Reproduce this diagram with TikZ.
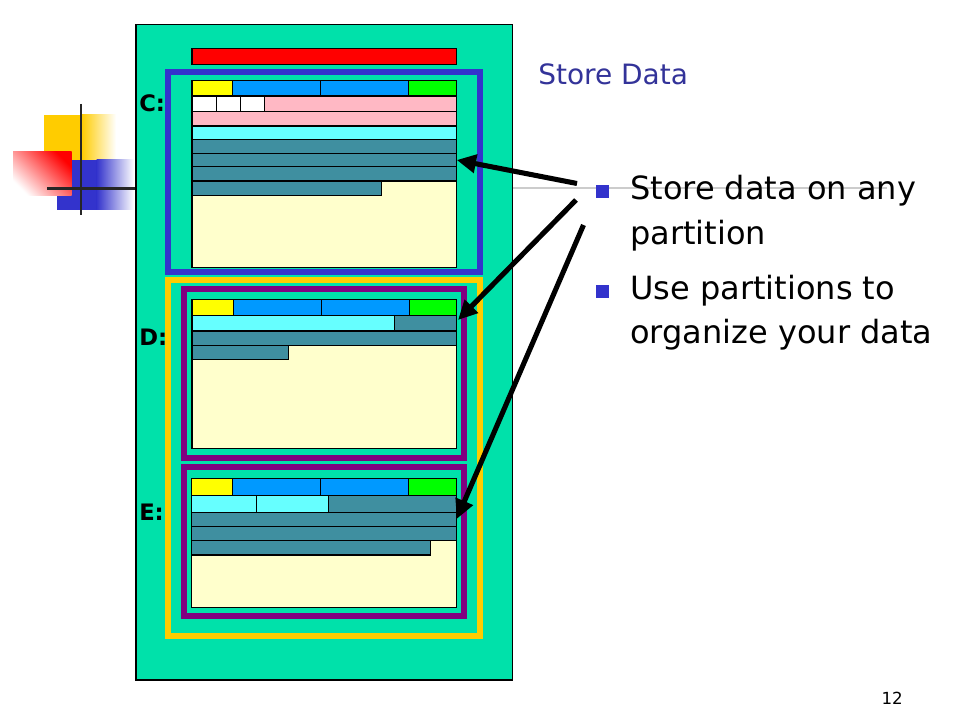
\documentclass[tikz,border=0pt]{standalone}
\usepackage{fontspec}
\setmainfont{DejaVu Sans}
\usetikzlibrary{arrows.meta,shadings}
\definecolor{panel}{RGB}{0,225,170}
\definecolor{cteal}{RGB}{63,143,160}
\definecolor{ccyan}{RGB}{102,255,255}
\definecolor{cpink}{RGB}{255,184,196}
\definecolor{cfree}{RGB}{255,255,204}
\definecolor{chead}{RGB}{0,153,255}
\definecolor{cyel}{RGB}{255,255,0}
\definecolor{cgreen}{RGB}{0,255,0}
\definecolor{cred}{RGB}{255,0,0}
\definecolor{fblue}{RGB}{51,51,204}
\definecolor{fpurple}{RGB}{128,0,128}
\definecolor{fyellow}{RGB}{255,204,0}
\definecolor{titleblue}{RGB}{51,51,153}
\definecolor{decoyel}{RGB}{255,204,0}
\definecolor{decoblue}{RGB}{51,51,204}
\newcommand\pcell[5]{\filldraw[cellbox, fill=#5] (#1,#2) rectangle (#3,#4);}
\tikzset{
  cellbox/.style={draw=black, line width=1pt},
  framebox/.style={line width=4.5pt},
  bigarrow/.style={line width=3.8pt, -{Triangle[length=14.5pt,width=13.5pt]}},
  drvlabel/.style={anchor=base west, inner sep=0pt, font=\fontsize{17pt}{20pt}\selectfont\bfseries},
  bullettext/.style={anchor=base west, inner sep=0pt, font=\fontsize{24pt}{28pt}\selectfont},
  bulletsq/.style={fill=fblue, minimum size=9.5pt, inner sep=0pt, draw=none}
}
\begin{document}
\begin{tikzpicture}[x=0.75pt,y=-0.75pt]
\useasboundingbox (0,0) rectangle (960,720);
\fill[white] (0,0) rectangle (960,720);
% decoration
\fill[decoyel] (44,115) rectangle (82,160);
\shade[left color=decoyel, right color=white] (81.5,115) rectangle (116,160);
\fill[decoblue] (57,160) rectangle (97,210);
\shade[left color=decoblue, right color=white] (96.5,160) rectangle (134,210);
\shade[top color=red, bottom color=white, shading angle=-45] (13,152) rectangle (71.7,196);
\draw[line width=2.2pt, black!85] (81,104) -- (81,215);
\draw[line width=2.2pt, black!85] (47,188.3) -- (137,188.3);
\draw[line width=1.6pt, black!20] (512,188) -- (887,188);
% panel
\filldraw[fill=panel, draw=black, line width=0.8pt] (136,24.3) rectangle (512.7,680);
\pcell{192}{48.3}{456.7}{64.3}{cred}
% frames
\draw[framebox, draw=fblue] (168,72) rectangle (480,272);
\draw[framebox, draw=fyellow] (168,280) rectangle (480,636);
\draw[framebox, draw=fpurple] (184,289) rectangle (463.7,457.7);
\draw[framebox, draw=fpurple] (184,467) rectangle (463.7,616);
% C partition
\pcell{192}{80.3}{456.7}{267.7}{cfree}
\pcell{192}{80.3}{232.3}{96}{cyel}
\pcell{232.3}{80.3}{320.3}{96}{chead}
\pcell{320.3}{80.3}{408.3}{96}{chead}
\pcell{408.3}{80.3}{456.7}{96}{cgreen}
\pcell{192}{96}{216.7}{111.7}{white}
\pcell{216.7}{96}{240.3}{111.7}{white}
\pcell{240.3}{96}{264.3}{111.7}{white}
\pcell{264.3}{96}{456.7}{111.7}{cpink}
\pcell{192}{111.7}{456.7}{126}{cpink}
\pcell{192}{126}{456.7}{139.3}{ccyan}
\pcell{192}{139.3}{456.7}{153.3}{cteal}
\pcell{192}{153.3}{456.7}{166.7}{cteal}
\pcell{192}{166.7}{456.7}{181}{cteal}
\pcell{192}{181}{381.7}{195.3}{cteal}
% D partition
\pcell{192}{299.3}{456.7}{448.3}{cfree}
\pcell{192}{299.3}{233.3}{315.3}{cyel}
\pcell{233.3}{299.3}{321.3}{315.3}{chead}
\pcell{321.3}{299.3}{409.3}{315.3}{chead}
\pcell{409.3}{299.3}{456.7}{315.3}{cgreen}
\pcell{192}{315.3}{394.7}{331}{ccyan}
\pcell{394.7}{315.3}{456.7}{331}{cteal}
\pcell{192}{331}{456.7}{345.3}{cteal}
\pcell{192}{345.3}{288.7}{359.3}{cteal}
% E partition
\pcell{191.5}{478.3}{456.7}{607.7}{cfree}
\pcell{191.5}{478.3}{232.3}{495.3}{cyel}
\pcell{232.3}{478.3}{320.3}{495.3}{chead}
\pcell{320.3}{478.3}{408.3}{495.3}{chead}
\pcell{408.3}{478.3}{456.7}{495.3}{cgreen}
\pcell{191.5}{495.3}{256.3}{512.3}{ccyan}
\pcell{256.3}{495.3}{328.3}{512.3}{ccyan}
\pcell{328.3}{495.3}{456.7}{512.3}{cteal}
\pcell{191.5}{512.3}{456.7}{526.3}{cteal}
\pcell{191.5}{526.3}{456.7}{540.3}{cteal}
\pcell{191.5}{540.3}{430.3}{555}{cteal}
% drive labels
\node[drvlabel] (lc) at (139,112) {C:};
\node[drvlabel] (ld) at (139,345) {D:};
\node[drvlabel] (le) at (139,520) {E:};
% title and bullets
\node[anchor=base west, inner sep=0pt, text=titleblue, font=\fontsize{21pt}{25pt}\selectfont] (title) at (538,85) {Store Data};
\node[bulletsq] (sq1) at (602.7,191.5) {};
\node[bulletsq] (sq2) at (602.7,291.5) {};
\node[bullettext] (b1a) at (630,200) {Store data on any};
\node[bullettext] (b1b) at (630,245) {partition};
\node[bullettext] (b2a) at (630,300) {Use partitions to};
\node[bullettext] (b2b) at (630,343) {organize your data};
\node[anchor=base east, inner sep=0pt, font=\fontsize{12.5pt}{15pt}\selectfont] (pg) at (903,704) {12};
% arrows
\coordinate (s1) at (577,183.5);
\coordinate (s2) at (576,200);
\coordinate (s3) at (583.5,225);
\coordinate (t1) at (456.7,160);
\coordinate (t2) at (458,320);
\coordinate (t3) at (456.7,519);
\draw[bigarrow] (s1) -- (t1);
\draw[bigarrow] (s2) -- (t2);
\draw[bigarrow] (s3) -- (t3);
\end{tikzpicture}
\end{document}
